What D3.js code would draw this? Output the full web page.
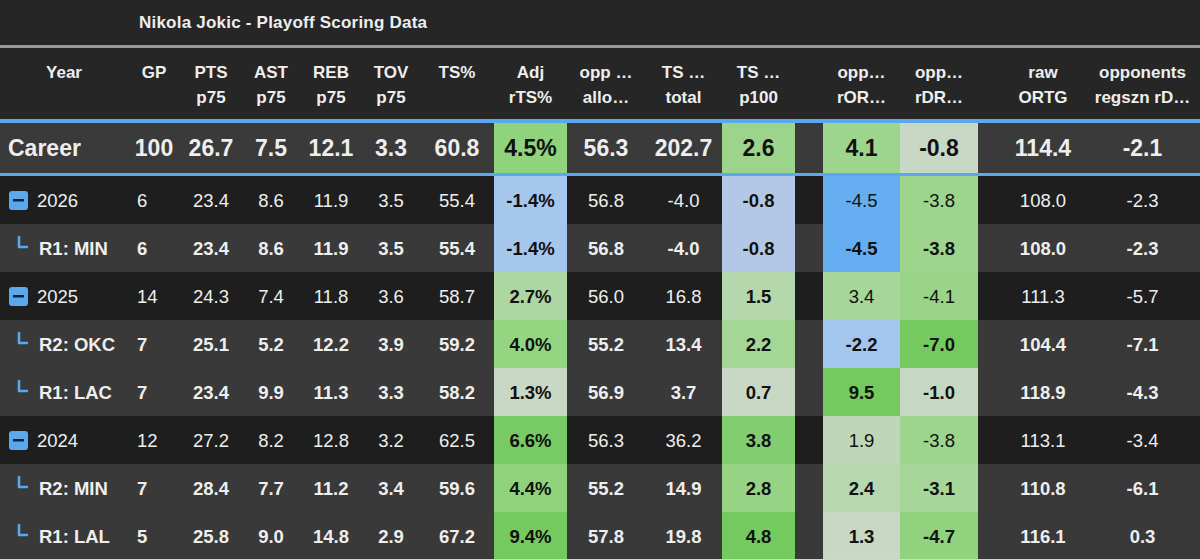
<!DOCTYPE html>
<html><head><meta charset="utf-8">
<script src="https://cdn.jsdelivr.net/npm/d3@7"></script>
<style>body{margin:0;background:#262626;font-family:"Liberation Sans",Arial,sans-serif}</style>
</head><body><svg id="c" width="1200" height="559"></svg>
<script>
// data
const labels = ["Career","2026","R1: MIN","2025","R2: OKC","R1: LAC","2024","R2: MIN","R1: LAL"];
const kinds  = ["career","year","round","year","round","round","year","round","round"];
const gp   = [100,6,6,14,7,7,12,7,5];
const pts  = [26.7,23.4,23.4,24.3,25.1,23.4,27.2,28.4,25.8];
const ast  = [7.5,8.6,8.6,7.4,5.2,9.9,8.2,7.7,9.0];
const reb  = [12.1,11.9,11.9,11.8,12.2,11.3,12.8,11.2,14.8];
const tov  = [3.3,3.5,3.5,3.6,3.9,3.3,3.2,3.4,2.9];
const ts   = [60.8,55.4,55.4,58.7,59.2,58.2,62.5,59.6,67.2];
const adjRts = [4.5,-1.4,-1.4,2.7,4.0,1.3,6.6,4.4,9.4];
const oppAllo = [56.3,56.8,56.8,56.0,55.2,56.9,56.3,55.2,57.8];
const tsTotal = [202.7,-4.0,-4.0,16.8,13.4,3.7,36.2,14.9,19.8];
const tsP100 = [2.6,-0.8,-0.8,1.5,2.2,0.7,3.8,2.8,4.8];
const oppROR = [4.1,-4.5,-4.5,3.4,-2.2,9.5,1.9,2.4,1.3];
const oppRDR = [-0.8,-3.8,-3.8,-4.1,-7.0,-1.0,-3.8,-3.1,-4.7];
const rawOrtg = [114.4,108.0,108.0,111.3,104.4,118.9,113.1,110.8,116.1];
const oppReg = [-2.1,-2.3,-2.3,-5.7,-7.1,-4.3,-3.4,-6.1,0.3];
const headers = [["Year"],["GP"],["PTS","p75"],["AST","p75"],["REB","p75"],["TOV","p75"],["TS%"],["Adj","rTS%"],["opp …","allo…"],["TS …","total"],["TS …","p100"],[""],["opp…","rOR…"],["opp…","rDR…"],["raw","ORTG"],["opponents","regszn rD…"]];

const blue="#65aef2", pale="#c9d8c5", green="#74c95f";
const sAdj = d3.scaleLinear().domain([-1.5,0,1.3,4,7]).range(["#a3c6ef","#c0d3d8",pale,"#94d582",green]).clamp(true);
const sP100 = d3.scaleLinear().domain([-0.8,0.7,2.5,4.5]).range(["#b3c8e6",pale,"#9dd58c",green]).clamp(true);
const sROR = d3.scaleLinear().domain([-4.5,-2.2,1.3,4,9.5]).range([blue,"#a3c6ef",pale,"#9dd58c",green]).clamp(true);
const sRDR = d3.scaleLinear().domain([-7,-3.8,-0.8]).range([green,"#9dd58c",pale]).clamp(true);

const loc = d3.formatLocale({decimal:".",thousands:",",grouping:[3],currency:["",""],minus:"-"});
const f1 = loc.format(".1f");
const cols = [
  {x:0,w:128},
  {x:128,w:52,v:gp,f:d=>d},
  {x:180,w:62,v:pts,f:f1},
  {x:242,w:58,v:ast,f:f1},
  {x:300,w:62,v:reb,f:f1},
  {x:362,w:58,v:tov,f:f1},
  {x:420,w:74,v:ts,f:f1},
  {x:494,w:73,v:adjRts,f:d=>f1(d)+"%",s:sAdj,bold:true},
  {x:567,w:78,v:oppAllo,f:f1},
  {x:645,w:77,v:tsTotal,f:f1},
  {x:722,w:73,v:tsP100,f:f1,s:sP100,bold:true},
  {x:795,w:28},
  {x:823,w:77,v:oppROR,f:f1,s:sROR},
  {x:900,w:78,v:oppRDR,f:f1,s:sRDR},
  {x:978,w:130,v:rawOrtg,f:f1},
  {x:1085,w:115,v:oppReg,f:f1}
];

const svg = d3.select("#c");
svg.append("rect").attr("width",1200).attr("height",559).attr("fill","#262626");
svg.append("text").attr("x",283).attr("y",28).attr("text-anchor","middle").attr("fill","#eee")
  .attr("font-size",17).attr("font-weight","bold").attr("textLength",288).text("Nikola Jokic - Playoff Scoring Data");
svg.append("rect").attr("y",45).attr("width",1200).attr("height",3).attr("fill","#9a9a9a");

// header
cols.forEach((c,i)=>{
  headers[i].forEach((t,j)=>{
    svg.append("text").attr("x",i===0?64:c.x+c.w/2).attr("y",78+j*25).attr("text-anchor","middle")
      .attr("fill","#eee").attr("font-size",17).attr("font-weight","bold").text(t);
  });
});

const rowTop = [123,176,224,272,320,368,416,464,512];
const rowH = [50,48,48,48,48,48,48,48,48];
svg.append("rect").attr("y",119).attr("width",1200).attr("height",4).attr("fill","#5aa9ef");
svg.append("rect").attr("y",172).attr("width",1200).attr("height",4).attr("fill","#5aa9ef");

labels.forEach((lab,r)=>{
  const k=kinds[r], y=rowTop[r], h=rowH[r], cy=y+h/2;
  const bg = k==="year"?"#1e1e1e":(k==="career"?"#3a3a3a":"#393939");
  svg.append("rect").attr("y",y).attr("width",1200).attr("height",h).attr("fill",bg);
  const fs = k==="career"?23:18.5, bold = k!=="year";
  cols.forEach((c,i)=>{
    if(i===0){
      if(k==="career"){
        svg.append("text").attr("x",8).attr("y",cy+8).attr("fill","#eee").attr("font-size",fs).attr("font-weight","bold").text(lab);
      } else if(k==="year"){
        svg.append("rect").attr("x",9).attr("y",cy-9).attr("width",19).attr("height",19).attr("rx",3).attr("fill","#5aa9ef");
        svg.append("rect").attr("x",13).attr("y",cy-1).attr("width",11).attr("height",2.5).attr("fill","#1e1e1e");
        svg.append("text").attr("x",37).attr("y",cy+7).attr("fill","#eee").attr("font-size",fs).text(lab);
      } else {
        svg.append("path").attr("d",`M19,${cy-12}V${cy-1}H28`).attr("stroke","#5aa9ef").attr("stroke-width",2.5).attr("fill","none");
        svg.append("text").attr("x",39).attr("y",cy+7).attr("fill","#eee").attr("font-size",fs).attr("font-weight","bold").text(lab);
      }
      return;
    }
    if(!c.v) return;
    const val=c.v[r];
    if(c.s) svg.append("rect").attr("x",c.x).attr("y",y).attr("width",c.w).attr("height",h).attr("fill",c.s(val));
    const left = i===1 && k!=="career";
    svg.append("text").attr("x",left?137:c.x+c.w/2).attr("y",cy+(k==="career"?8:7))
      .attr("text-anchor",left?"start":"middle").attr("fill",c.s?"#111":"#eee")
      .attr("font-size",fs).attr("font-weight",(bold||c.bold)?"bold":"normal").text(c.f(val));
  });
});
</script></body></html>
